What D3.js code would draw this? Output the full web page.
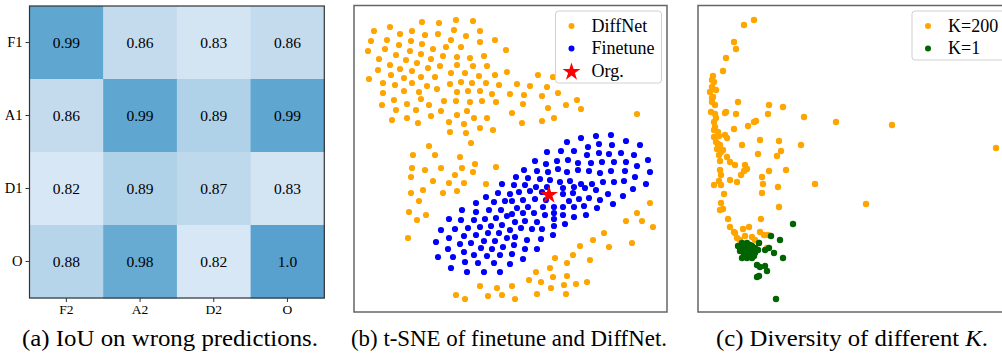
<!DOCTYPE html>
<html>
<head>
<meta charset="utf-8">
<script src="https://cdn.jsdelivr.net/npm/d3@7"></script>
<style>
  body { margin: 0; background: #fff; }
  svg { display: block; }
</style>
</head>
<body>
<svg id="fig" width="1002" height="354"></svg>
<script>
// (a) IoU matrix
const rowLabels = ["F1", "A1", "D1", "O"];
const colLabels = ["F2", "A2", "D2", "O"];
const iou = [
  [0.99, 0.86, 0.83, 0.86],
  [0.86, 0.99, 0.89, 0.99],
  [0.82, 0.89, 0.87, 0.83],
  [0.88, 0.98, 0.82, 1.0]
];

// (b) t-SNE embedding
const diffnet = [
  [68,290],[85,289],[102,292],[119,291],[20,281],[36,285],[58,281],[46,278],[71,277],[84,278],[100,282],[112,276],[126,281],
  [17,271],[33,272],[57,271],[68,268],[97,272],[126,270],[141,272],
  [14,261],[31,263],[45,267],[56,261],[79,263],[92,265],[107,265],[152,262],
  [25,253],[42,257],[52,252],[67,258],[77,253],[89,256],[103,255],[116,254],[130,256],
  [24,242],[36,247],[46,243],[63,249],[74,244],[86,246],[103,247],[119,246],[133,246],
  [15,233],[37,237],[50,234],[58,241],[67,235],[81,235],[97,239],[111,239],[125,236],[141,237],[153,240],
  [29,229],[41,227],[58,229],[73,226],[83,223],[96,228],[107,230],[118,229],[132,229],[145,227],
  [29,219],[50,221],[65,220],[103,220],[114,221],[126,221],[138,218],[156,218],
  [40,212],[67,213],[90,211],[102,211],[116,210],[128,211],[142,210],
  [28,207],[53,208],[75,207],[62,202],[42,202],[87,201],[113,201],[158,199],
  [38,192],[53,194],[77,196],[64,189],[103,197],[120,194],[133,194],
  [95,190],[110,188],[126,184],[139,182],[96,180],[112,179],
  [117,169],[75,166],[59,157],[81,157],[106,155],
  [184,237],[199,235],[163,228],[176,226],[193,225],[170,217],[188,216],[204,219],[169,208],[212,207],
  [223,212],[194,204],[227,203],[168,189],[188,191],[200,194],[283,198],
  [121,148],[142,145],[58,144],[71,142],[87,144],[108,144],[101,137],[57,135],[119,140],[79,131],[95,129],
  [110,129],[132,128],[69,122],[57,119],[89,119],[103,121],[65,111],[55,100],[72,97],[63,92],[54,74],
  [126,26],[143,24],[158,26],[102,17],[111,13],[134,16],[148,17],
  [296,109],[283,99],[272,91],[288,91],[299,85],[250,79],[239,72],[226,66],[255,65],[278,69],[219,57],
  [201,54],[236,52],[213,49],[196,44],[182,40],[199,35],[213,36],[175,32],[187,30],[210,27],[222,28],
  [233,30],[197,24],[183,18],[212,18],[161,13]
];
const finetune = [
  [213,170],[227,174],[242,176],[257,177],[272,171],[286,167],[193,160],[207,161],[220,161],[234,165],[245,168],
  [258,167],[233,157],[245,159],[255,158],[267,159],[280,157],
  [148,128],[132,115],[144,119],[122,109],[140,110],[151,111],[108,102],[122,100],[135,102],[147,102],
  [95,93],[107,92],[120,92],[131,93],[142,94],[153,96],[87,82],[101,83],[114,84],[126,85],[137,86],[148,87],
  [95,74],[110,76],[122,77],[134,79],[145,79],[82,70],[106,68],[117,69],[130,71],[141,71],[153,74],
  [94,63],[110,60],[127,64],[138,63],[149,65],[84,55],[99,55],[120,57],[133,56],[146,57],
  [111,50],[124,49],[140,49],[97,44],[113,40],[130,40],[146,40],
  [181,151],[192,148],[203,151],[214,152],[224,149],[237,149],[248,150],[260,150],[272,150],[283,146],[294,152],
  [170,142],[183,141],[194,140],[204,143],[213,140],[224,142],[235,141],[246,139],[257,141],[271,141],[281,135],[296,140],
  [162,135],[174,134],[186,133],[196,132],[206,130],[216,131],[227,128],[238,128],[249,130],[260,130],[270,131],[292,128],
  [160,127],[171,127],[182,125],[193,125],[209,124],[220,125],[231,124],[242,122],[254,118],[279,123],
  [156,118],[165,120],[176,121],[188,120],[209,118],[219,119],[235,114],[246,112],[269,116],
  [158,111],[169,112],[181,113],[192,112],[215,111],[225,113],[259,108],
  [163,104],[174,105],[189,105],[200,105],[209,105],[220,105],[230,106],[243,104],
  [158,98],[169,99],[180,99],[191,97],[200,99],[209,97],[220,95],[232,97],
  [161,90],[171,91],[183,90],[200,93],[211,88],
  [156,82],[167,84],[178,83],[188,83],[200,86],
  [161,75],[173,72],[187,73],[199,77],
  [160,67],[171,63],[183,63],[158,58],[169,53],[156,48]
];
const orgPoint = [195, 117];

// (c) diversity for K=200 and K=1
const k200 = [
  [56,292],[46,287],[36,270],[38,263],[28,254],[25,241],
  [15,236],[16,230],[14,225],[12,220],[15,215],[14,210],[17,207],[13,200],[17,198],[16,190],[17,185],[20,180],
  [16,175],[21,176],[18,170],[22,167],[19,163],[25,162],[21,157],[29,155],[27,177],[29,174],[14,232],[18,222],
  [14,214],[18,194],[16,182],[20,168],[23,160],
  [40,210],[71,207],[85,205],[70,198],[38,198],[27,199],[28,200],[106,195],[138,190],[194,187],[58,191],[56,190],
  [50,186],[36,183],[62,172],[81,171],[103,167],[44,167],[60,158],[83,161],[79,156],[298,164],
  [22,151],[32,150],[37,147],[47,147],[49,143],[22,142],[23,137],[46,141],[43,137],[71,141],[88,142],[64,135],
  [32,132],[39,130],[21,131],[16,127],[23,127],[65,128],[80,125],[117,128],[26,118],[64,119],[23,109],[22,102],
  [25,103],[81,105],[168,108],[30,93],[63,93],[32,85],[36,80],[45,83],[51,85],[62,80],[66,77],[39,74],[54,75],
  [70,77],[61,69],[69,64],[37,79],[42,72],[47,76],[57,72]
];
const k1 = [
  [44,69],[49,69],[54,66],[42,64],[47,64],[52,61],[57,59],[46,57],[51,56],[56,56],[42,61],[44,54],[54,54],[49,54],
  [46,67],[52,67],[57,64],[40,66],[46,61],[52,63],[48,59],[60,62],
  [95,88],[73,76],[82,72],[61,69],[67,62],[71,64],[76,59],[85,54],[59,47],[62,45],[67,46],[69,41],[61,36],[59,35],[78,13]
];

const SERIF = '"Liberation Serif", "Times New Roman", Times, serif';
const svg = d3.select("#fig");

// ---------- (a) heatmap ----------
const hm = { left: 29.5, right: 324.3, top: 6, bottom: 298 };
const hx = d3.scaleBand().domain(colLabels).range([hm.left, hm.right]);
const hy = d3.scaleBand().domain(rowLabels).range([hm.top, hm.bottom]);
const shade = d3.scaleLinear().domain([0.82, 1.0]).range([0.16, 0.56]);

const cells = [];
iou.forEach((row, i) => row.forEach((v, j) => cells.push({ r: rowLabels[i], c: colLabels[j], v })));

const ga = svg.append("g");
ga.selectAll("rect.cell")
  .data(cells)
  .enter()
  .append("rect")
  .attr("class", "cell")
  .attr("x", d => hx(d.c))
  .attr("y", d => hy(d.r))
  .attr("width", hx.bandwidth() + 0.5)
  .attr("height", hy.bandwidth() + 0.5)
  .attr("fill", d => d3.interpolateBlues(shade(d.v)));

ga.selectAll("text.val")
  .data(cells)
  .enter()
  .append("text")
  .attr("class", "val")
  .attr("x", d => hx(d.c) + hx.bandwidth() / 2)
  .attr("y", d => hy(d.r) + hy.bandwidth() / 2)
  .attr("dy", "0.35em")
  .attr("text-anchor", "middle")
  .style("font-size", "15.5px")
  .text(d => (Number.isInteger(d.v) ? d.v.toFixed(1) : String(d.v)));

const yAxisA = ga.append("g")
  .attr("transform", "translate(" + hm.left + ",0)")
  .call(d3.axisLeft(hy).tickSize(4).tickPadding(3));
const xAxisA = ga.append("g")
  .attr("transform", "translate(0," + hm.bottom + ")")
  .call(d3.axisBottom(hx).tickSize(4).tickPadding(2));
[yAxisA, xAxisA].forEach(ax => {
  ax.attr("font-family", null).attr("font-size", null);
  ax.select(".domain").remove();
  ax.selectAll("line").attr("stroke", "#333");
});
yAxisA.selectAll("text").style("font-size", "14.5px");
xAxisA.selectAll("text").style("font-size", "13.5px");

ga.append("rect")
  .attr("x", hm.left).attr("y", hm.top)
  .attr("width", hm.right - hm.left).attr("height", hm.bottom - hm.top)
  .attr("fill", "none").attr("stroke", "#333").attr("stroke-width", 1.2);

// ---------- scatter panels ----------
function scatterPanel(box, xMax, yMax) {
  const g = svg.append("g");
  const x = d3.scaleLinear().domain([0, xMax]).range([box.left, box.right]);
  const y = d3.scaleLinear().domain([0, yMax]).range([box.bottom, box.top]);
  return { g, x, y };
}

function dots(p, data, color, r) {
  p.g.append("g")
    .selectAll("circle")
    .data(data)
    .enter()
    .append("circle")
    .attr("cx", d => p.x(d[0]))
    .attr("cy", d => p.y(d[1]))
    .attr("r", r)
    .attr("fill", color);
}

function frame(p, box) {
  p.g.append("rect")
    .attr("x", box.left).attr("y", box.top)
    .attr("width", box.right - box.left).attr("height", box.bottom - box.top)
    .attr("fill", "none").attr("stroke", "#666").attr("stroke-width", 1.5);
}

function legend(g, x0, y0, w, h, items) {
  g.append("rect")
    .attr("x", x0).attr("y", y0).attr("width", w).attr("height", h)
    .attr("rx", 3).attr("fill", "#fff").attr("fill-opacity", 0.85)
    .attr("stroke", "#d0d0d0").attr("stroke-width", 1);
  items.forEach((it, i) => {
    const cy = y0 + 15 + i * 22.5;
    if (it.star) {
      g.append("path")
        .attr("d", d3.symbol(d3.symbolStar, 100)())
        .attr("transform", "translate(" + (x0 + 16) + "," + (cy + 1) + ")")
        .attr("fill", it.color);
    } else {
      g.append("circle").attr("cx", x0 + 16).attr("cy", cy).attr("r", 3).attr("fill", it.color);
    }
    g.append("text")
      .attr("x", x0 + 36).attr("y", cy).attr("dy", "0.33em")
      .style("font-size", "18px")
      .text(it.label);
  });
}

// (b)
const boxB = { left: 354, right: 667, top: 5.5, bottom: 312 };
const pb = scatterPanel(boxB, 313, 306.5);
dots(pb, diffnet, "orange", 3.1);
dots(pb, finetune, "blue", 3.1);
pb.g.append("path")
  .attr("d", d3.symbol(d3.symbolStar, 100)())
  .attr("transform", "translate(" + pb.x(orgPoint[0]) + "," + pb.y(orgPoint[1]) + ")")
  .attr("fill", "red");
frame(pb, boxB);
legend(pb.g, 555.5, 11, 106, 72, [
  { label: "DiffNet", color: "orange" },
  { label: "Finetune", color: "blue" },
  { label: "Org.", color: "red", star: true }
]);

// (c)
const boxC = { left: 698, right: 1011, top: 5.5, bottom: 312 };
const pc = scatterPanel(boxC, 313, 306.5);
dots(pc, k200, "orange", 3.2);
dots(pc, k1, "darkgreen", 3.2);
frame(pc, boxC);
legend(pc.g, 912, 11, 100, 49, [
  { label: "K=200", color: "orange" },
  { label: "K=1", color: "darkgreen" }
]);

// ---------- captions ----------
const captions = [
  { x: 170, w: 296, parts: [["(a) IoU on wrong predictions.", "normal"]] },
  { x: 509, w: 316, parts: [["(b) t-SNE of finetune and DiffNet.", "normal"]] },
  { x: 852, w: 272, parts: [["(c) Diversity of different ", "normal"], ["K", "italic"], [".", "normal"]] }
];
captions.forEach(c => {
  const t = svg.append("text")
    .attr("x", c.x).attr("y", 346)
    .attr("text-anchor", "middle")
    .attr("textLength", c.w)
    .attr("lengthAdjust", "spacingAndGlyphs")
    .style("font-size", "24px");
  c.parts.forEach(p => t.append("tspan").style("font-style", p[1]).text(p[0]));
});

svg.selectAll("text").style("font-family", SERIF).style("fill", "#000");
</script>
</body>
</html>
